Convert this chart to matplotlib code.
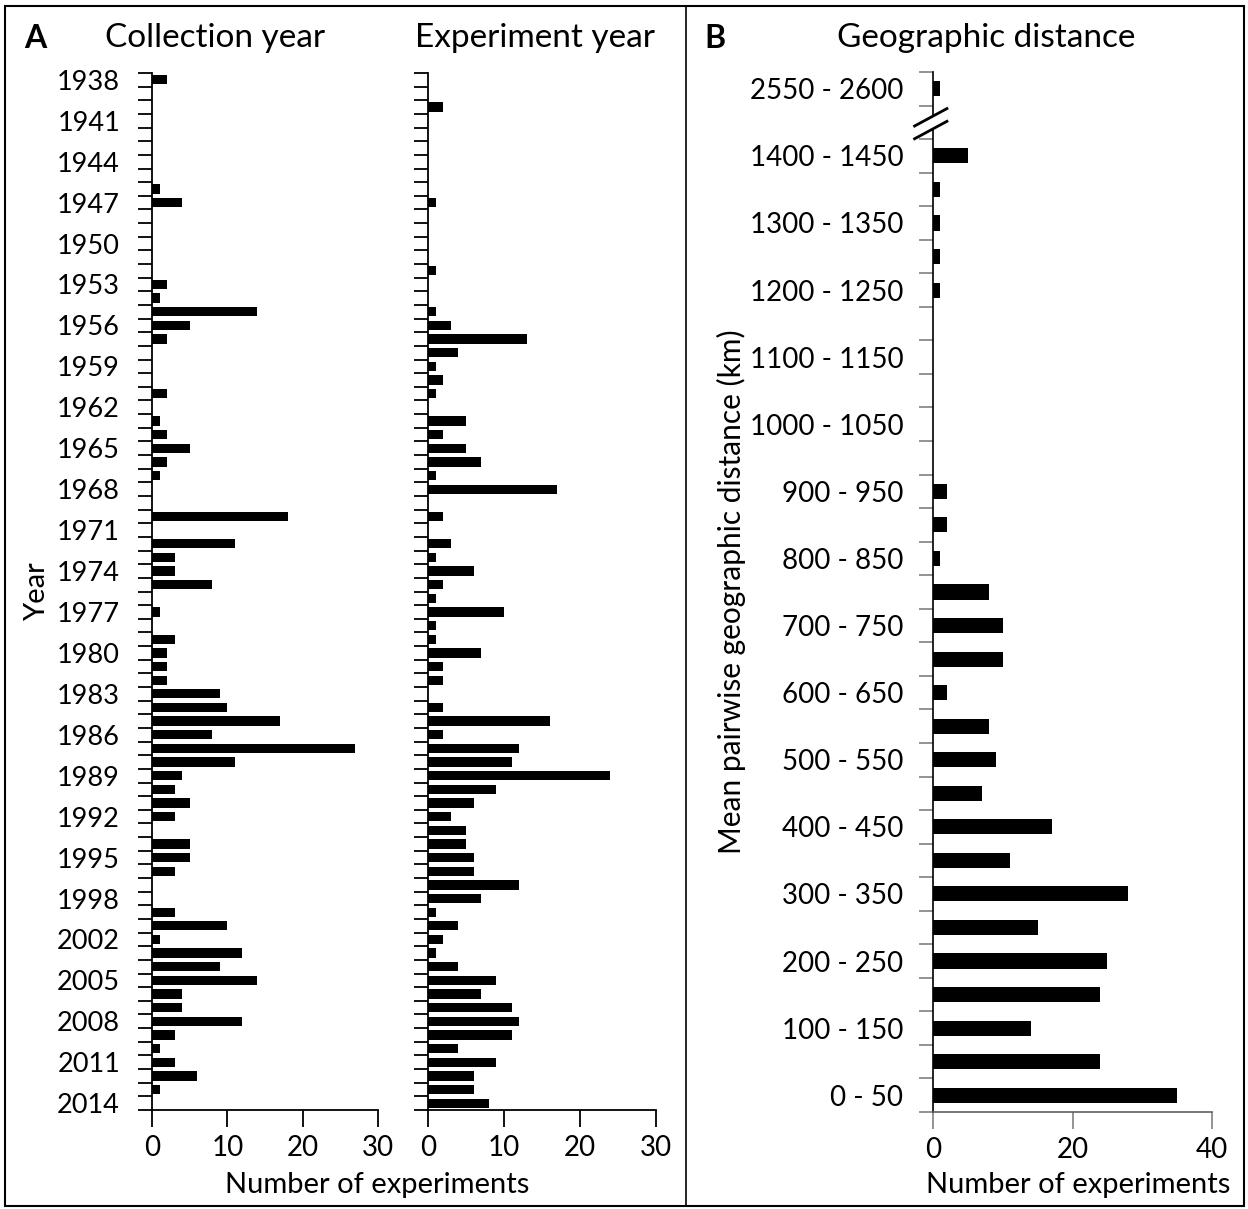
import numpy as np
import matplotlib.pyplot as plt
from matplotlib.patches import Rectangle, Polygon
from matplotlib.lines import Line2D
import matplotlib.transforms as mtransforms

plt.rcParams['font.family'] = ['Lato', 'DejaVu Sans']

# Panel A data: one category per year (no category for the year 1999)
years = list(range(1938, 1999)) + [2000, 2001] + list(range(2002, 2015))
collection = [2, 0, 0, 0, 0, 0, 0, 0, 1, 4,
              0, 0, 0, 0, 0, 2, 1, 14, 5, 2,
              0, 0, 0, 2, 0, 1, 2, 5, 2, 1,
              0, 0, 18, 0, 11, 3, 3, 8, 0, 1,
              0, 3, 2, 2, 2, 9, 10, 17, 8, 27,
              11, 4, 3, 5, 3, 0, 5, 5, 3, 0,
              0, 3, 10, 1, 12, 9, 14, 4, 4, 12,
              3, 1, 3, 6, 1, 0]
experiment = [0, 0, 2, 0, 0, 0, 0, 0, 0, 1,
              0, 0, 0, 0, 1, 0, 0, 1, 3, 13,
              4, 1, 2, 1, 0, 5, 2, 5, 7, 1,
              17, 0, 2, 0, 3, 1, 6, 2, 1, 10,
              1, 1, 7, 2, 2, 0, 2, 16, 2, 12,
              11, 24, 9, 6, 3, 5, 5, 6, 6, 12,
              7, 1, 4, 2, 1, 4, 9, 7, 11, 12,
              11, 4, 9, 6, 6, 8]
year_ticks = [1938, 1941, 1944, 1947, 1950, 1953, 1956, 1959, 1962, 1965,
              1968, 1971, 1974, 1977, 1980, 1983, 1986, 1989, 1992, 1995,
              1998, 2002, 2005, 2008, 2011, 2014]

# Panel B data: 50 km bins, one empty slot for the axis break
dist_bins = ['0 - 50', '50 - 100', '100 - 150', '150 - 200', '200 - 250',
             '250 - 300', '300 - 350', '350 - 400', '400 - 450', '450 - 500',
             '500 - 550', '550 - 600', '600 - 650', '650 - 700', '700 - 750',
             '750 - 800', '800 - 850', '850 - 900', '900 - 950', '950 - 1000',
             '1000 - 1050', '1050 - 1100', '1100 - 1150', '1150 - 1200',
             '1200 - 1250', '1250 - 1300', '1300 - 1350', '1350 - 1400',
             '1400 - 1450', '', '2550 - 2600']
dist_counts = [35, 24, 14, 24, 25, 15, 28, 11, 17, 7,
               9, 8, 2, 10, 10, 8, 1, 2, 2, 0,
               0, 0, 0, 0, 1, 1, 1, 1, 5, 0, 1]
dist_ticks = ['0 - 50', '100 - 150', '200 - 250', '300 - 350', '400 - 450',
              '500 - 550', '600 - 650', '700 - 750', '800 - 850', '900 - 950',
              '1000 - 1050', '1100 - 1150', '1200 - 1250', '1300 - 1350',
              '1400 - 1450', '2550 - 2600']

W, H = 1248, 1209
FS = 19       # tick labels
FS_LAB = 21   # axis labels
FS_TIT = 24   # panel titles
fig = plt.figure(figsize=(W / 100, H / 100), dpi=100)


def px_axes(x0, x1, y0, y1):
    return fig.add_axes([x0 / W, 1 - y1 / H, (x1 - x0) / W, (y1 - y0) / H])


ax1 = px_axes(152, 378, 73, 1110)
ax2 = px_axes(428, 656, 73, 1110)
ax3 = px_axes(933, 1212, 72, 1112)

n = len(years)
ypos = np.arange(n)
for ax, vals in [(ax1, collection), (ax2, experiment)]:
    ax.barh(ypos, vals, height=0.68, color='black')
    ax.set_ylim(n - 0.5, -0.5)
    ax.set_xlim(0, 30)
    ax.set_xticks([0, 10, 20, 30])
    ax.set_yticks(np.arange(n + 1) - 0.5)
    ax.set_yticklabels([])
    ax.tick_params(axis='y', which='major', length=10, width=1.3, color='black')
    ax.tick_params(axis='x', length=12, width=1.3, labelsize=FS + 1, pad=6)
    for s in ['top', 'right']:
        ax.spines[s].set_visible(False)
    for s in ['left', 'bottom']:
        ax.spines[s].set_linewidth(1.3)

ax1.set_yticks([years.index(y) for y in year_ticks], minor=True)
ax1.set_yticklabels([str(y) for y in year_ticks], minor=True, fontsize=FS + 0.5)
ax1.tick_params(axis='y', which='minor', length=0, pad=23)
ax1.set_ylabel('Year', fontsize=FS_LAB)
ax1.yaxis.set_label_coords(-0.452, 0.5)

# Panel B
m = len(dist_bins)
dpos = np.arange(m)
ax3.barh(dpos, dist_counts, height=0.45, color='black')
ax3.set_ylim(-0.5, m - 0.5)
ax3.set_xlim(0, 40)
ax3.set_xticks([0, 20, 40])
ax3.set_yticks(np.arange(m + 1) - 0.5)
ax3.set_yticklabels([])
ax3.set_yticks([dist_bins.index(b) for b in dist_ticks], minor=True)
ax3.set_yticklabels(dist_ticks, minor=True, fontsize=FS + 1)
ax3.tick_params(axis='y', which='major', length=10, width=1.2, color='#808080')
ax3.tick_params(axis='y', which='minor', length=0, pad=21.5)
ax3.tick_params(axis='x', length=12, width=1.2, color='#808080', labelsize=FS + 1, pad=6)
for s in ['top', 'right']:
    ax3.spines[s].set_visible(False)
ax3.spines['left'].set_color('black')
ax3.spines['bottom'].set_color('#606060')
ax3.spines['left'].set_linewidth(1.2)
ax3.spines['bottom'].set_linewidth(1.2)
ax3.set_ylabel('Mean pairwise geographic distance (km)', fontsize=FS_LAB + 0.5)
ax3.yaxis.set_label_coords(-0.672, 0.5)
ax3.text(0.52, -0.07, 'Number of experiments', transform=ax3.transAxes,
         ha='center', va='center', fontsize=FS_LAB)

# axis break marks at the empty slot
gap = dist_bins.index('')
tr = mtransforms.blended_transform_factory(ax3.transAxes, ax3.transData)
xa, xb = -0.066, 0.05
c1, c2, dy = gap + 0.15, gap - 0.23, 0.26
ax3.add_patch(Polygon([(xa, c1 - dy), (xb, c1 + dy), (xb, c2 + dy), (xa, c2 - dy)],
                      closed=True, transform=tr, facecolor='white',
                      edgecolor='none', clip_on=False, zorder=5))
for c in (c1, c2):
    ax3.add_line(Line2D([xa, xb], [c - dy, c + dy], transform=tr, color='black',
                        lw=2, clip_on=False, zorder=6))

# titles, panel letters, shared x label
fig.text(35 / W, 1 - 38 / H, 'A', fontsize=FS_TIT - 1, fontweight='bold', ha='center', va='center')
fig.text(215 / W, 1 - 38 / H, 'Collection year', fontsize=FS_TIT, ha='center', va='center')
fig.text(535 / W, 1 - 38 / H, 'Experiment year', fontsize=FS_TIT, ha='center', va='center')
fig.text(715 / W, 1 - 38 / H, 'B', fontsize=FS_TIT - 1, fontweight='bold', ha='center', va='center')
fig.text(986 / W, 1 - 38 / H, 'Geographic distance', fontsize=FS_TIT, ha='center', va='center')
fig.text(377 / W, 1 - 1185 / H, 'Number of experiments', fontsize=FS_LAB, ha='center', va='center')

# outer frame and panel divider
fig.add_artist(Rectangle((5 / W, 1 - 1206 / H), 1239 / W, 1200 / H,
                         transform=fig.transFigure, fill=False, edgecolor='black', lw=1.5))
fig.add_artist(Line2D([686 / W, 686 / W], [1 - 1206 / H, 1 - 6 / H],
                      transform=fig.transFigure, color='black', lw=1.2))

fig.savefig('out.png', dpi=100)
